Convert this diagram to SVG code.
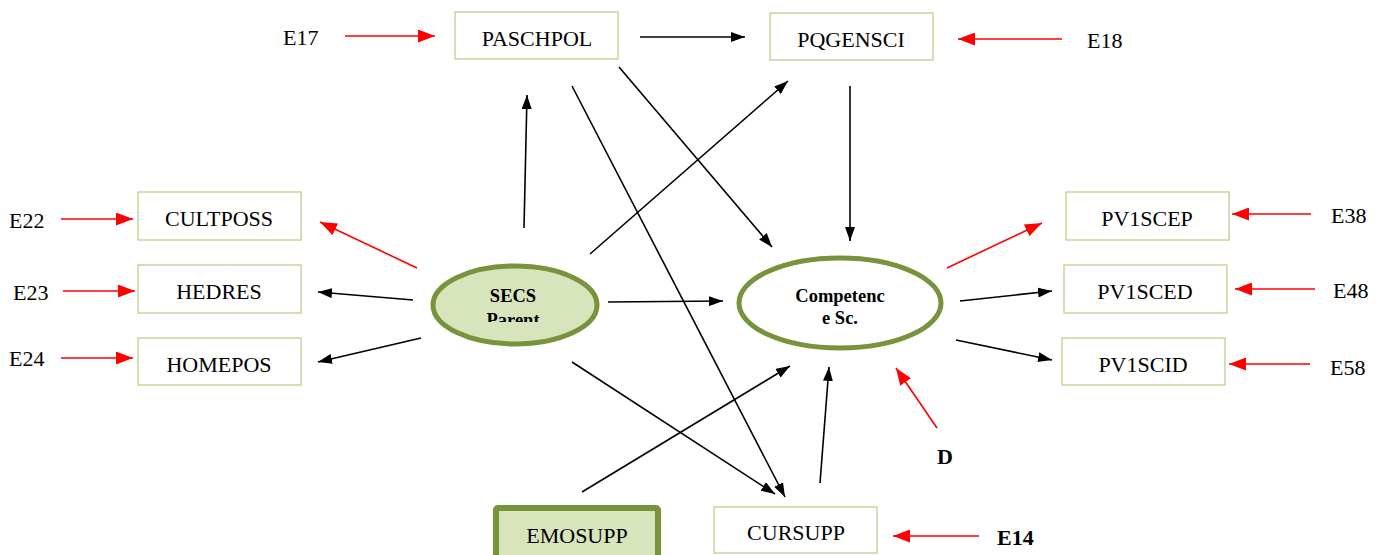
<svg xmlns="http://www.w3.org/2000/svg" width="1388" height="555" viewBox="0 0 1388 555">
<style>
.box{fill:#fff;stroke:#c3d69b;stroke-width:1.5}
.t{font-family:"Liberation Serif","DejaVu Serif",serif;font-size:22px;fill:#000;text-anchor:middle}
.e{font-family:"Liberation Serif","DejaVu Serif",serif;font-size:22px;fill:#000}
.b{font-weight:bold}
.k{stroke:#000;stroke-width:1.6;fill:none;marker-end:url(#ak)}
.r{stroke:#f00;stroke-width:1.6;fill:none;marker-end:url(#ar)}
.lv{font-family:"Liberation Serif","DejaVu Serif",serif;font-size:18.5px;font-weight:bold;text-anchor:middle}
</style>
<defs>
<marker id="ak" viewBox="0 0 14 10" refX="14" refY="5" markerWidth="14" markerHeight="10" markerUnits="userSpaceOnUse" orient="auto"><path d="M0,0 L14,5 L0,10 z" fill="#000"/></marker>
<marker id="ar" viewBox="0 0 17 13" refX="17" refY="6.5" markerWidth="17" markerHeight="13" markerUnits="userSpaceOnUse" orient="auto"><path d="M0,0 L17,6.5 L0,13 z" fill="#f00"/></marker>
<clipPath id="secsclip"><rect x="420" y="250" width="200" height="72"/></clipPath>
</defs>
<rect width="1388" height="555" fill="#fff"/>
<g id="connectors">
<line class="k" x1="640" y1="37" x2="745" y2="37"/>
<line class="k" x1="524" y1="228" x2="527" y2="95"/>
<line class="k" x1="590" y1="254" x2="788" y2="81"/>
<line class="k" x1="619" y1="67" x2="772" y2="247"/>
<line class="k" x1="572" y1="86" x2="785" y2="497"/>
<line class="k" x1="850" y1="86" x2="850" y2="241"/>
<line class="k" x1="413" y1="300" x2="318" y2="292"/>
<line class="k" x1="421" y1="338" x2="318" y2="362"/>
<line class="k" x1="608" y1="302" x2="723" y2="301"/>
<line class="k" x1="572" y1="362" x2="775" y2="494"/>
<line class="k" x1="582" y1="492" x2="790" y2="366"/>
<line class="k" x1="820" y1="483" x2="829" y2="367"/>
<line class="k" x1="960" y1="301" x2="1052" y2="291"/>
<line class="k" x1="956" y1="340" x2="1052" y2="360"/>
<line class="r" x1="417" y1="268" x2="320" y2="222"/>
<line class="r" x1="947" y1="268" x2="1042" y2="223"/>
<line class="r" x1="937" y1="428" x2="896" y2="368"/>
<line class="r" x1="345" y1="36" x2="435" y2="36"/>
<line class="r" x1="1062" y1="39" x2="958" y2="39"/>
<line class="r" x1="61" y1="219" x2="133" y2="219"/>
<line class="r" x1="63" y1="291" x2="135" y2="291"/>
<line class="r" x1="61" y1="358" x2="133" y2="358"/>
<line class="r" x1="1311" y1="214" x2="1232" y2="214"/>
<line class="r" x1="1315" y1="289" x2="1235" y2="289"/>
<line class="r" x1="1310" y1="364" x2="1229" y2="364"/>
<line class="r" x1="979" y1="536" x2="893" y2="536"/>
</g>
<g id="PASCHPOL"><rect class="box" x="455" y="12" width="163" height="47"/><text class="t" x="537" y="46">PASCHPOL</text></g>
<g id="PQGENSCI"><rect class="box" x="770" y="13" width="163" height="47"/><text class="t" x="851" y="47">PQGENSCI</text></g>
<g id="CULTPOSS"><rect class="box" x="138" y="192" width="163" height="48"/><text class="t" x="219" y="226">CULTPOSS</text></g>
<g id="HEDRES"><rect class="box" x="138" y="265" width="163" height="48"/><text class="t" x="219" y="299">HEDRES</text></g>
<g id="HOMEPOS"><rect class="box" x="138" y="338" width="163" height="47"/><text class="t" x="219" y="372">HOMEPOS</text></g>
<g id="PV1SCEP"><rect class="box" x="1066" y="192" width="163" height="48"/><text class="t" x="1147" y="226">PV1SCEP</text></g>
<g id="PV1SCED"><rect class="box" x="1064" y="265" width="163" height="48"/><text class="t" x="1145" y="299">PV1SCED</text></g>
<g id="PV1SCID"><rect class="box" x="1062" y="338" width="163" height="47"/><text class="t" x="1143" y="372">PV1SCID</text></g>
<g id="EMOSUPP"><rect x="496" y="508" width="162" height="50" fill="#d7e4bc" stroke="#77933c" stroke-width="6" rx="2"/><text class="t" x="577" y="543">EMOSUPP</text></g>
<g id="CURSUPP"><rect class="box" x="714" y="507" width="163" height="46"/><text class="t" x="796" y="540">CURSUPP</text></g>
<g id="SECS"><ellipse cx="515" cy="305" rx="82" ry="39" fill="#d7e4bc" stroke="#77933c" stroke-width="5"/><g clip-path="url(#secsclip)"><text class="lv" x="513" y="302">SECS</text><text class="lv" x="513" y="326">Parent</text></g></g>
<g id="Competence"><ellipse cx="840" cy="303" rx="101" ry="45" fill="#fff" stroke="#77933c" stroke-width="5"/><text class="lv" x="840" y="302">Competenc</text><text class="lv" x="840" y="324">e Sc.</text></g>
<g id="errors">
<text class="e" x="283" y="45">E17</text>
<text class="e" x="1087" y="48">E18</text>
<text class="e" x="9" y="228">E22</text>
<text class="e" x="13" y="300">E23</text>
<text class="e" x="9" y="366">E24</text>
<text class="e" x="1331" y="223">E38</text>
<text class="e" x="1333" y="298">E48</text>
<text class="e" x="1330" y="375">E58</text>
<text class="e b" x="997" y="545">E14</text>
<text class="e b" x="937" y="464">D</text>
</g>
</svg>
